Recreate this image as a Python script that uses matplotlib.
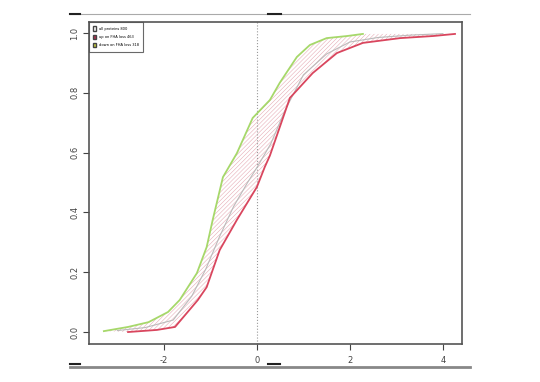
import matplotlib
matplotlib.use('Agg')
import matplotlib.pyplot as plt
from matplotlib.lines import Line2D
from matplotlib.patches import Patch

# cumulative curves
up_x = [-2.77, -2.15, -1.76, -1.27, -1.08, -0.80, -0.43, 0.0, 0.17, 0.28, 0.71, 1.20, 1.72, 2.28, 3.08, 3.79, 4.26]
up_y = [0.0, 0.007, 0.017, 0.107, 0.15, 0.274, 0.375, 0.485, 0.552, 0.59, 0.783, 0.866, 0.933, 0.967, 0.983, 0.99, 0.997]
down_x = [-3.29, -2.77, -2.33, -1.91, -1.66, -1.29, -1.08, -0.95, -0.73, -0.43, -0.09, 0.28, 0.49, 0.86, 1.14, 1.50, 1.94, 2.28]
down_y = [0.003, 0.017, 0.033, 0.067, 0.107, 0.197, 0.284, 0.375, 0.518, 0.598, 0.716, 0.776, 0.833, 0.92, 0.96, 0.983, 0.99, 0.997]
all_x = [-3.0, -2.4, -1.8, -1.4, -1.1, -0.8, -0.5, -0.2, 0.0, 0.3, 0.6, 1.0, 1.5, 2.0, 2.6, 3.3, 4.0]
all_y = [0.005, 0.015, 0.04, 0.12, 0.21, 0.32, 0.42, 0.5, 0.55, 0.63, 0.74, 0.86, 0.93, 0.97, 0.985, 0.993, 0.998]

legend_labels = ['all proteins 800', 'up on FHA loss 463', 'down on FHA loss 318']
xticks = [-2, 0, 2, 4]
yticks = [0.0, 0.2, 0.4, 0.6, 0.8, 1.0]

plt.rcParams['hatch.linewidth'] = 0.35
fig = plt.figure(figsize=(5.4, 3.82), dpi=100)
ax = fig.add_axes([0.1648, 0.0995, 0.6907, 0.843])

# hatched band between the two curves
poly_x = down_x + up_x[::-1]
poly_y = down_y + up_y[::-1]
ax.fill(poly_x, poly_y, facecolor='none', edgecolor='#e3a3ae', hatch='////////', linewidth=0)

ax.axvline(0, color='#999999', linestyle=':', linewidth=0.8)
ax.plot(all_x, all_y, color='#bbbbbb', linewidth=0.8)
ax.plot(up_x, up_y, color='#d9465e', linewidth=1.3)
ax.plot(down_x, down_y, color='#a6d86a', linewidth=1.3)

ax.set_xlim(-3.61, 4.41)
ax.set_ylim(-0.04, 1.037)
ax.set_xticks(xticks)
ax.set_xticklabels([str(t) for t in xticks])
ax.set_yticks(yticks)
ax.set_yticklabels(['%.1f' % t for t in yticks], rotation=90, va='center')
ax.tick_params(axis='x', direction='out', length=4, pad=5, labelsize=6, colors='#444444')
ax.tick_params(axis='y', direction='out', length=4, pad=3, labelsize=6, colors='#444444')
for s in ax.spines.values():
    s.set_color('#555555')
    s.set_linewidth(1.2)

handles = [Patch(facecolor='white', edgecolor='#444444'),
           Patch(facecolor='#b03050', edgecolor='#444444'),
           Patch(facecolor='#c8d040', edgecolor='#444444')]
leg = ax.legend(handles, legend_labels, loc='upper left', fontsize=2.6, frameon=True,
                fancybox=False, borderaxespad=0, handlelength=0.8, handleheight=1.6,
                borderpad=1.2, labelspacing=1.0)
leg.get_frame().set_edgecolor('#444444')
leg.get_frame().set_linewidth(0.8)

# scan borders above and below
H = 382.0
W = 540.0
def hline(x0, x1, y, color, lw):
    fig.add_artist(Line2D([x0 / W, x1 / W], [1 - y / H, 1 - y / H], color=color, linewidth=lw,
                          transform=fig.transFigure))
hline(70, 470, 14, '#aaaaaa', 0.8)
hline(70, 80, 13.5, '#222222', 1.5)
hline(268, 281, 13.5, '#222222', 1.5)
hline(70, 470, 367, '#888888', 2.0)
hline(70, 80, 364, '#222222', 1.5)
hline(268, 280, 364, '#222222', 1.5)

fig.savefig('out.png', dpi=100)
